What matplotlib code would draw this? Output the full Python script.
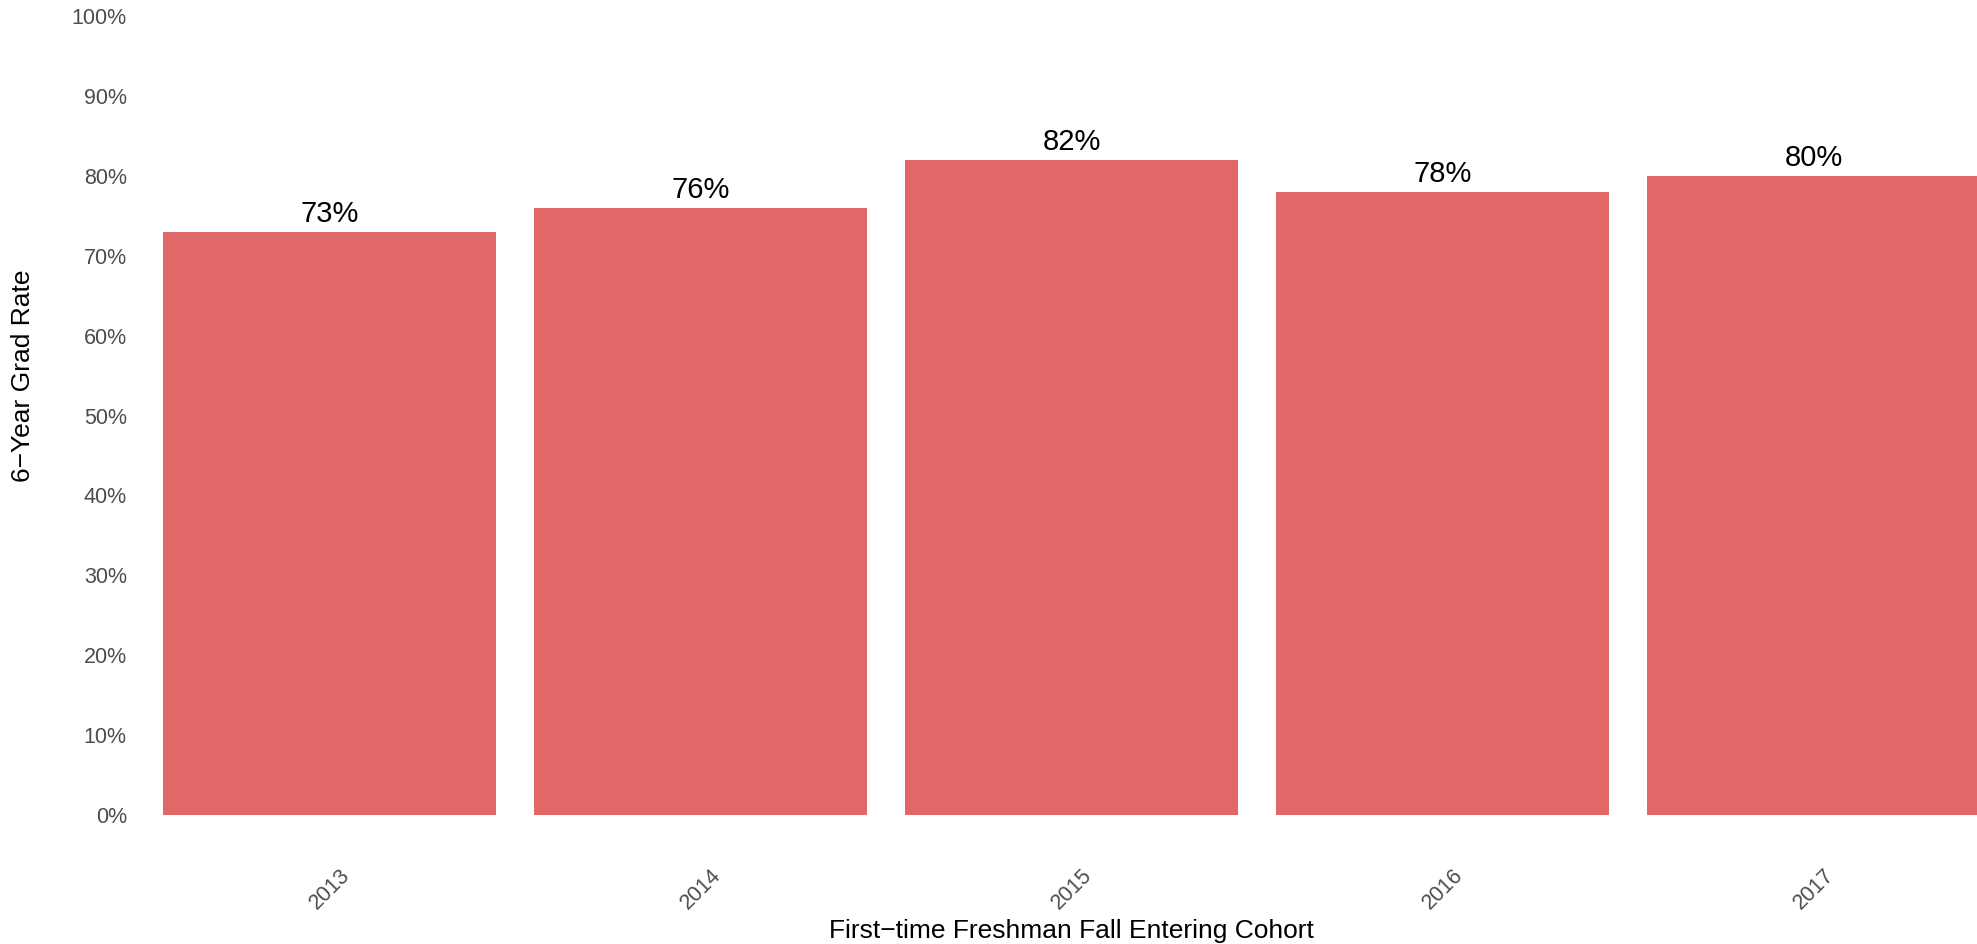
import matplotlib
matplotlib.use("Agg")
import matplotlib.pyplot as plt
import numpy as np

# data
cohorts = ["2013", "2014", "2015", "2016", "2017"]
grad_rate = [73, 76, 82, 78, 80]
yticks = [0, 10, 20, 30, 40, 50, 60, 70, 80, 90, 100]

plt.rcParams['font.family'] = ['Liberation Sans', 'DejaVu Sans']

W, H = 1977, 944
fig = plt.figure(figsize=(W / 100, H / 100), dpi=100)

# panel in pixel terms: left 140, right 1977, y=0 at 815, y=100 at 16
left_px, right_px = 140, 1977
bot_px, top_px = 815, 16
ax = fig.add_axes([left_px / W, (H - bot_px) / H,
                   (right_px - left_px) / W, (bot_px - top_px) / H])

x = np.arange(1, len(cohorts) + 1)
ax.bar(x, grad_rate, width=0.9, color='#E06868')

# bar spacing 371 px, first centre at 329.5 px
step = 371.0
ax.set_xlim(1 + (left_px - 329.5) / step, 1 + (right_px - 329.5) / step)
ax.set_ylim(0, 100)

for xi, v in zip(x, grad_rate):
    ax.annotate(f"{v}%", (xi, v), xytext=(0, 7), textcoords='offset points',
                ha='center', va='baseline', fontsize=21, color='black')

ax.set_yticks(yticks)
ax.set_yticklabels([f"{t}%" for t in yticks])
ax.set_xticks(x)
ax.set_xticklabels(cohorts, rotation=45, ha='center', va='top')
ax.tick_params(axis='y', length=0, pad=9.5, labelsize=15.5, labelcolor='#4D4D4D')
ax.tick_params(axis='x', length=0, pad=36, labelsize=15.5, labelcolor='#4D4D4D')
for s in ax.spines.values():
    s.set_visible(False)

fig.text(23 / W, 1 - 376 / H, "6\u2212Year Grad Rate", rotation=90,
         ha='center', va='center', fontsize=19)
fig.text(1071 / W, 1 - 931 / H, "First\u2212time Freshman Fall Entering Cohort",
         ha='center', va='center', fontsize=19)

fig.savefig("out.png", dpi=100)
